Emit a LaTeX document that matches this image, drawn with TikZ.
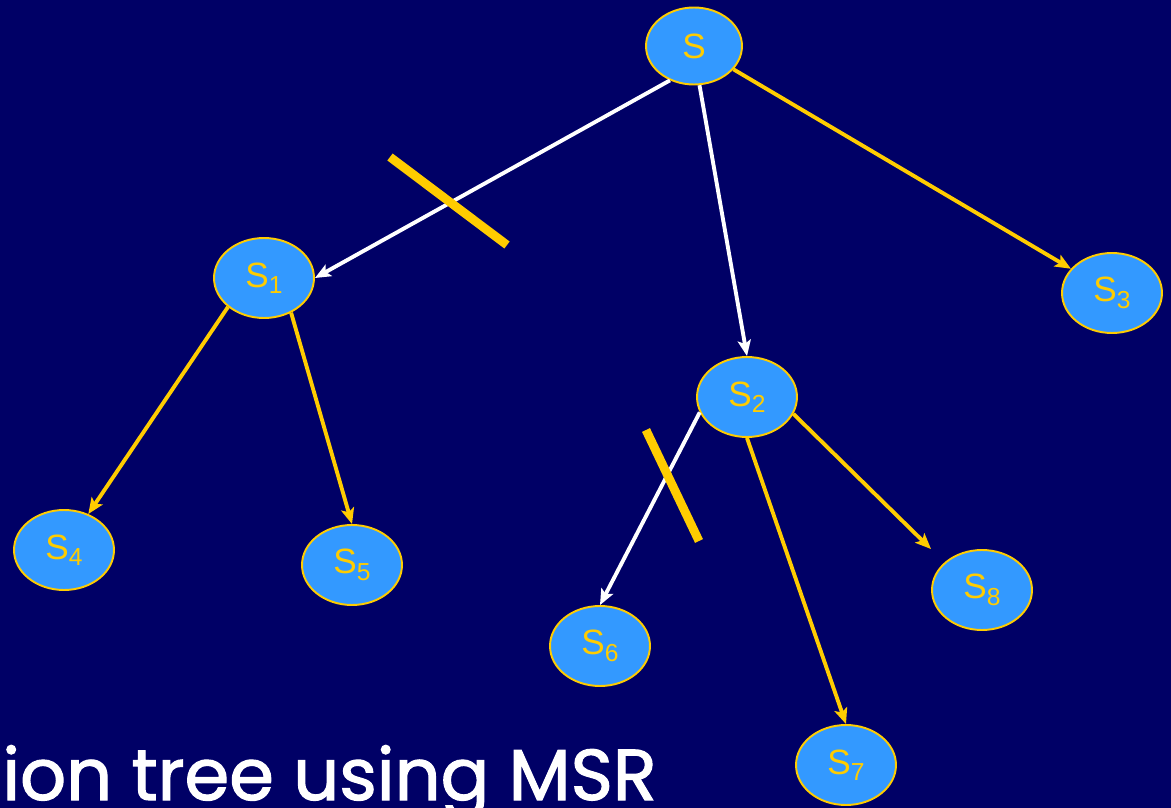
\documentclass[tikz,border=0pt]{standalone}
\usepackage{fontspec}
\setmainfont{Liberation Sans}
\newfontfamily\captionfont[FakeBold=1.6]{Poppins}
\usetikzlibrary{shapes.geometric, arrows.meta}
\definecolor{navy1}{RGB}{0, 0, 102}
\definecolor{nodeblue}{RGB}{51, 153, 255}
\definecolor{gold1}{RGB}{255, 204, 0}
% lowered index for the state names
\newcommand{\sidx}[1]{\raisebox{-0.35ex}{\fontsize{14}{14}\selectfont #1}}

\begin{document}
\begin{tikzpicture}[x=0.02cm, y=-0.02cm,
  state/.style={ellipse, draw=gold1, line width=1.1pt, fill=nodeblue, text=gold1,
    minimum width=2cm, minimum height=1.6cm, inner sep=0pt, font=\fontsize{20}{24}\selectfont},
  edge/.style={line width=2.2pt, -{Stealth[length=9pt, width=7.5pt, inset=2pt]}},
  cut/.style={draw=gold1, line width=5pt},
]
  \clip (0,0) rectangle (1171,808);
  \fill[navy1] (0,0) rectangle (1171,808);

  % states
  \node[state, minimum width=1.92cm, minimum height=1.54cm] (s) at (694,46) {S};
  \node[state] (s1) at (264,278) {S\sidx{1}};
  \node[state] (s2) at (747,397) {S\sidx{2}};
  \node[state] (s3) at (1112,293) {S\sidx{3}};
  \node[state] (s4) at (64,550) {S\sidx{4}};
  \node[state] (s5) at (352,565) {S\sidx{5}};
  \node[state] (s6) at (600,646) {S\sidx{6}};
  \node[state] (s7) at (846,765) {S\sidx{7}};
  \node[state] (s8) at (982,590) {S\sidx{8}};

  % branches
  \draw[edge, white] (s.235) -- (s1.east);
  \draw[edge, white] (s.278) -- (s2.north);
  \draw[edge, gold1] (s) -- (s3);
  \draw[edge, gold1] (s1.south west) -- (s4);
  \draw[edge, gold1] (s1.308) -- (s5.north);
  \draw[edge, white] (s2.198) -- (s6.north);
  \draw[edge, gold1] (s2.south) -- (s7.north);
  \draw[edge, gold1] (s2.340) -- (s8.west |- s8.north);

  % pruned branches
  \draw[cut] (390,157) -- (507,245);
  \draw[cut] (646,430) -- (699,541);

  \node[anchor=base west, text=white, inner sep=0pt,
    font=\captionfont\fontsize{41}{48}\selectfont] (title) at (2,800) {ion tree using MSR};
\end{tikzpicture}
\end{document}
